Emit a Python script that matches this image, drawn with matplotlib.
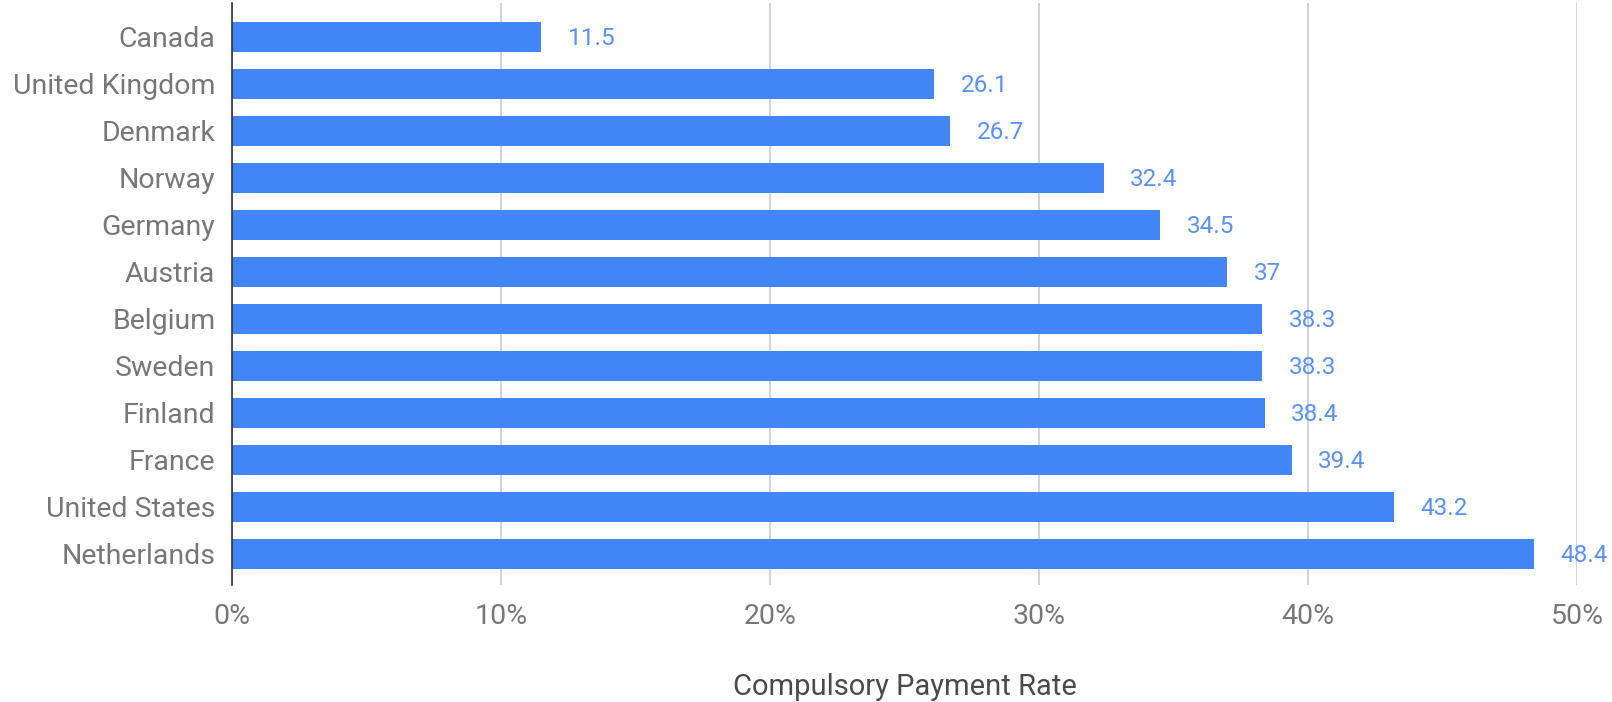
import matplotlib.pyplot as plt

countries = ["Canada", "United Kingdom", "Denmark", "Norway", "Germany", "Austria",
             "Belgium", "Sweden", "Finland", "France", "United States", "Netherlands"]
rates = [11.5, 26.1, 26.7, 32.4, 34.5, 37, 38.3, 38.3, 38.4, 39.4, 43.2, 48.4]
ticks = [0, 10, 20, 30, 40, 50]

plt.rcParams["font.family"] = ["Roboto", "DejaVu Sans"]

fig = plt.figure(figsize=(16.12, 7.02), dpi=100)
ax = fig.add_axes([232 / 1612, 1 - 585 / 702, (1577 - 232) / 1612, 582 / 702])

y = list(range(len(countries)))
ax.barh(y, rates, height=0.64, color="#4285f4", zorder=3)
for yi, v in zip(y, rates):
    label = f"{v:g}"
    ax.annotate(label, (v, yi), xytext=(19, -1), textcoords="offset points",
                va="center", ha="left", color="#5a91f5", fontsize=17.5, zorder=4)

ax.set_xlim(0, 50)
ax.set_ylim(len(countries) - 0.34, -0.72)
ax.set_yticks(y)
ax.set_yticklabels(countries)
ax.set_xticks(ticks)
ax.set_xticklabels([f"{t}%" for t in ticks])
ax.tick_params(axis="both", length=0, labelsize=20.5, colors="#777777")
ax.tick_params(axis="y", pad=12)
ax.tick_params(axis="x", pad=13)
ax.xaxis.grid(True, color="#cccccc", linewidth=1.2, zorder=0)
for s in ["top", "right", "bottom"]:
    ax.spines[s].set_visible(False)
ax.spines["left"].set_color("#333333")
ax.spines["left"].set_linewidth(1.2)
ax.spines["left"].set_zorder(5)
ax.set_xlabel("Compulsory Payment Rate", fontsize=21, color="#4a4a4a", labelpad=31)

fig.savefig("out.png", dpi=100)
